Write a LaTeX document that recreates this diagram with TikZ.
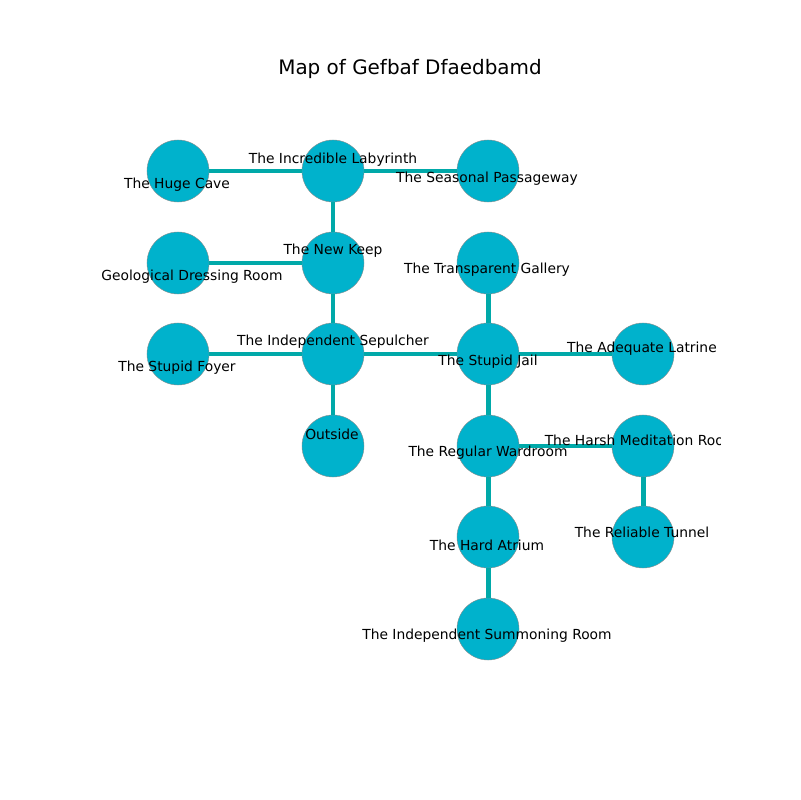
\documentclass[tikz,border=0pt]{standalone}
\usepackage{fontspec}
\setmainfont{DejaVu Sans}
\definecolor{roomfill}{HTML}{00B2CC}
\definecolor{passage}{HTML}{00A9A9}
\tikzset{
  room/.style={circle, fill=roomfill, draw=black!45, line width=0.3pt, minimum size=0.62in, inner sep=0pt},
  passage/.style={draw=passage, line width=3.6pt},
  roomname/.style={font=\fontsize{10}{12}\selectfont, text=black, inner sep=0pt, yshift=-0.02in}
}

\begin{document}
\begin{tikzpicture}[x=0.01in, y=-0.01in]
    \useasboundingbox (0,0) rectangle (800,800);
    % Titulo
    \node[font=\fontsize{14.4}{17}\selectfont] (title) at (410,69) {Map of Gefbaf Dfaedbamd};

    % Salas
    \node[room] (hugecave) at (178,171) {};
    \node[room] (labyrinth) at (333,171) {};
    \node[room] (passageway) at (488,171) {};
    \node[room] (dressing) at (178,263) {};
    \node[room] (keep) at (333,263) {};
    \node[room] (gallery) at (488,263) {};
    \node[room] (foyer) at (178,354) {};
    \node[room] (sepulcher) at (333,354) {};
    \node[room] (jail) at (488,354) {};
    \node[room] (latrine) at (643,354) {};
    \node[room] (outside) at (333,446) {};
    \node[room] (wardroom) at (488,446) {};
    \node[room] (meditation) at (643,446) {};
    \node[room] (atrium) at (488,537) {};
    \node[room] (tunnel) at (643,537) {};
    \node[room] (summoning) at (488,629) {};

    % Pasillos
    \draw[passage] (hugecave) -- (labyrinth);
    \draw[passage] (labyrinth) -- (passageway);
    \draw[passage] (labyrinth) -- (keep);
    \draw[passage] (dressing) -- (keep);
    \draw[passage] (keep) -- (sepulcher);
    \draw[passage] (foyer) -- (sepulcher);
    \draw[passage] (sepulcher) -- (outside);
    \draw[passage] (sepulcher) -- (jail);
    \draw[passage] (gallery) -- (jail);
    \draw[passage] (jail) -- (latrine);
    \draw[passage] (jail) -- (wardroom);
    \draw[passage] (wardroom) -- (meditation);
    \draw[passage] (meditation) -- (tunnel);
    \draw[passage] (wardroom) -- (atrium);
    \draw[passage] (atrium) -- (summoning);

    % Nombres
    \begin{scope}
    \clip (100,96) rectangle (720,712);
    \node[roomname] (hugecave-l) at (177,183) {The Huge Cave};
    \node[roomname] (labyrinth-l) at (333,158) {The Incredible Labyrinth};
    \node[roomname] (passageway-l) at (487,177) {The Seasonal Passageway};
    \node[roomname] (dressing-l) at (192,275) {Geological Dressing Room};
    \node[roomname] (keep-l) at (333,249) {The New Keep};
    \node[roomname] (gallery-l) at (487,268) {The Transparent Gallery};
    \node[roomname] (foyer-l) at (177,366) {The Stupid Foyer};
    \node[roomname] (sepulcher-l) at (333,340) {The Independent Sepulcher};
    \node[roomname] (jail-l) at (488,360) {The Stupid Jail};
    \node[roomname] (latrine-l) at (642,347) {The Adequate Latrine};
    \node[roomname] (outside-l) at (332,432) {Outside};
    \node[roomname] (wardroom-l) at (488,451) {The Regular Wardroom};
    \node[roomname] (meditation-l) at (641,438) {The Harsh Meditation Room};
    \node[roomname] (atrium-l) at (487,543) {The Hard Atrium};
    \node[roomname] (tunnel-l) at (642,530) {The Reliable Tunnel};
    \node[roomname] (summoning-l) at (487,634) {The Independent Summoning Room};
    \end{scope}
\end{tikzpicture}
\end{document}
